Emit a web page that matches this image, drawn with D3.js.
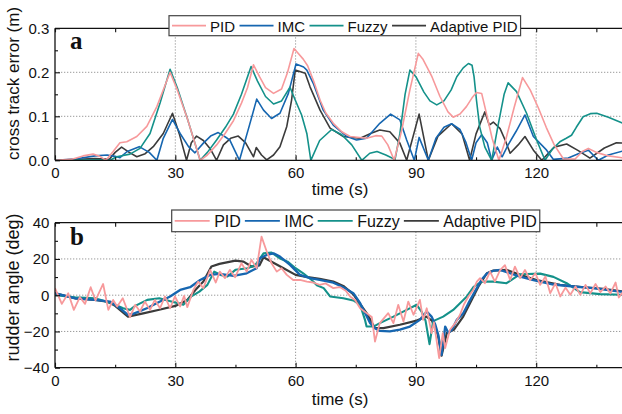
<!DOCTYPE html>
<html><head><meta charset="utf-8">
<script src="https://cdn.jsdelivr.net/npm/d3@7"></script>
<style>
html,body{margin:0;padding:0;background:#fff;}
svg{display:block;}
text{font-family:"Liberation Sans",Arial,sans-serif;fill:#111;}
</style></head>
<body>
<svg id="chart" width="622" height="414"></svg>
<script>
// ---------------- DATA ----------------
const seriesNames = ["PID", "IMC", "Fuzzy", "Adaptive PID"];
const xTicks = [0, 30, 60, 90, 120];
const xMinor = [15, 45, 75, 105, 135];
const cteTicks = [0, 0.1, 0.2, 0.3];
const cteMinor = [0.05, 0.15, 0.25];
const rudTicks = [-40, -20, 0, 20, 40];
const rudMinor = [-30, -10, 10, 30];

// cross track error (m): [time s, value]
const ctePID = [[0,0],[4,0.002],[7,0.01],[9.5,0.014],[11,0.01],[12.7,0],[14.5,0.02],[16.2,0.04],[17.9,0.042],[20.4,0.054],[22.9,0.077],[25.4,0.122],[28.7,0.2],[30.5,0.16],[33,0.095],[36.2,0],[38,0.012],[40.3,0.035],[42.5,0.062],[44.5,0.09],[46.5,0.13],[48,0.165],[49.5,0.217],[51,0.19],[52.5,0.165],[54.5,0.152],[56.5,0.162],[58,0.2],[59.6,0.254],[61.9,0.23],[63,0.215],[64.5,0.18],[66.1,0.137],[67.5,0.108],[69.4,0.084],[71.5,0.065],[73.6,0.054],[77.7,0.05],[80,0.056],[81.5,0.055],[83,0.035],[84.6,0],[86.5,0.07],[88.5,0.16],[90.6,0.243],[91.8,0.229],[94,0.19],[96,0.145],[98,0.11],[99.3,0.098],[101,0.105],[102.6,0.122],[104,0.142],[105.1,0.154],[106.4,0.152],[107.5,0.11],[109,0.05],[110.7,0],[112.5,0.05],[114.5,0.12],[116.6,0.188],[118.5,0.16],[120.5,0.12],[122.5,0.075],[124.5,0.035],[126.8,0.003],[129.7,0.003],[131.5,0.02],[133,0.027],[135,0.018],[138,0.01],[142,0.005]];
const cteIMC = [[0,0],[5,0.003],[10,0.01],[13,0.012],[15,0.009],[16.2,0.006],[18,0.02],[21,0.031],[23.5,0.018],[25.4,0],[27,0.05],[29.3,0.093],[31.2,0.061],[33.3,0.031],[34.9,0.017],[37,0.039],[38.8,0.055],[40.7,0.063],[42.5,0.053],[43.6,0.046],[46,0],[48.5,0.08],[50.3,0.139],[52,0.114],[54,0.095],[56.1,0.107],[58.2,0.152],[60.1,0.219],[62,0.212],[62.8,0.205],[64.4,0.175],[66.9,0.114],[69.4,0.08],[72.8,0.054],[75.2,0.046],[77.7,0.05],[81,0.084],[83.7,0.105],[86,0.092],[87.7,0.046],[89.6,0],[90.8,0.052],[93.1,0],[95,0.05],[97,0.075],[98.9,0.083],[101,0.07],[102.5,0.04],[103.9,0],[105,0.04],[106.4,0.058],[107.8,0.04],[108.9,0],[110.3,0.03],[111.5,0.008],[113,0.035],[115,0.066],[117.2,0.103],[119.3,0.054],[122.6,0.023],[124.3,0.002],[128,0.005],[130.5,0.015],[133,0.023],[135.5,0],[138,0.012],[142,0.022]];
const cteFuzzy = [[0,0],[12,0.001],[13.7,0],[15.4,0.008],[18.7,0.014],[21.2,0.027],[23.7,0.061],[26.2,0.13],[28.7,0.207],[30.5,0.165],[33,0.095],[36.2,0],[38,0.018],[40.3,0.046],[42.5,0.075],[44.5,0.105],[46.5,0.15],[48.9,0.213],[50.5,0.18],[52.5,0.145],[54.5,0.128],[56.5,0.135],[58.6,0.166],[59.9,0.137],[61.5,0.103],[62.8,0.061],[63.8,0],[66,0.045],[69,0.07],[71.5,0.058],[74,0.035],[76.5,0],[78.5,0.016],[80.3,0.02],[82.5,0.012],[84.8,0.002],[86,0.06],[87.3,0.15],[88.5,0.205],[90,0.19],[92,0.155],[93.5,0.135],[95.2,0.126],[97,0.135],[98.8,0.16],[100.2,0.19],[101.8,0.21],[103.1,0.22],[104,0.216],[104.5,0.19],[105.1,0.137],[105.9,0.076],[107.2,0.03],[108.9,0],[110.5,0.08],[112,0.15],[113,0.176],[115.1,0.156],[117.6,0.107],[120.1,0.046],[122.2,0],[124,0.025],[125.9,0.042],[127.5,0.05],[128.8,0.057],[130,0.075],[131.7,0.099],[133.5,0.106],[135.1,0.107],[138,0.098],[142,0.083]];
const cteAdaptive = [[0,0],[10,0.004],[13.5,0.002],[15,0.018],[16.6,0.03],[18.5,0.018],[20.4,0.008],[22.5,0.015],[24.5,0.031],[27,0.061],[29.3,0.107],[31,0.06],[32.8,0],[34,0.04],[35.3,0.055],[37,0.045],[38.8,0.025],[40.3,0],[42,0.035],[43.8,0.05],[45.7,0.055],[47.5,0.04],[49.5,0.008],[50.2,0.029],[51.5,0.012],[52.8,0.001],[54.5,0.012],[56.1,0.031],[57.8,0.077],[59,0.137],[59.9,0.205],[62.4,0.198],[63.6,0.167],[66.1,0.114],[68.6,0.073],[71.9,0.054],[76.1,0.05],[79,0.062],[81,0.069],[83.5,0.065],[86,0.039],[87.7,0],[90.8,0.105],[93.1,0],[95.5,0.055],[98.9,0.083],[101.5,0.06],[103.4,0],[105,0.06],[107.2,0.11],[108.3,0.08],[109.3,0.087],[111,0.072],[112.3,0.045],[113.5,0.016],[115.5,0.035],[117.2,0.054],[119.3,0.023],[121.4,0],[124.5,0.03],[127.6,0.037],[130.5,0.022],[133.4,0.005],[137,0.028],[140,0.04],[142,0.039]];

// rudder angle (deg): [time s, value]
const rudPID = [[0,3.9],[1.7,-4.8],[3.3,1.1],[4.7,-8.1],[6.2,-1.1],[7.5,-4.8],[8.9,4.4],[10.1,-2.9],[12,6.2],[13.3,-8.1],[14.5,-2.6],[15.5,-6.2],[16.9,-1.7],[18.7,-12.1],[20,-5.3],[21.2,-9],[22.4,-3.5],[23.7,-8.1],[24.9,-2.6],[26.2,-7.2],[27.4,-0.7],[28.7,-7.2],[29.9,-0.7],[31.2,-6.2],[32.2,-0.4],[33,-6.6],[34.5,2.9],[35.7,7.5],[37,3.9],[38.7,14],[40.1,7],[41.1,13],[42.4,9.4],[43.6,14],[44.9,9.9],[46.5,17.6],[47.8,13],[49,19.5],[50.3,14.9],[51.5,32.3],[52.8,24.1],[54,17.6],[55.3,13],[56.5,14.9],[57.8,11.2],[59.4,8.4],[61.1,8.4],[62.8,7.5],[64.4,7],[66,5.7],[67.5,6.5],[69.4,3.9],[71,4.5],[72.5,2.5],[73.6,-0.7],[74.8,-2.6],[76.1,-7.2],[77.7,-9.9],[79,-12],[79.8,-25.6],[81,-15.4],[83.1,-9.9],[84.4,-15.4],[85.6,-5.3],[86.9,-14.5],[88.1,-3.5],[89.4,-10.8],[91,-2.6],[91.8,-13.6],[92.7,-7.2],[93.9,-20.9],[94.5,-15],[95.8,-34.7],[96.7,-20.9],[97.3,-29.2],[98.5,-19.1],[99.8,-15.4],[101,-10.8],[102,-5],[103.1,-0.7],[104.3,2.9],[105.2,7.5],[106,9.4],[107.2,6.6],[108.5,13],[109.7,7.5],[111,13.9],[112.2,16.6],[113.5,8.4],[114.7,15.8],[116,9.4],[117.2,13.9],[118.5,8.4],[119.8,12.1],[121,5.7],[122.3,10.3],[123.5,1.1],[124.8,6.6],[126,-0.7],[127.3,4.2],[128.5,0.2],[129.8,4.8],[131,0.2],[132.3,5.7],[133.5,1.1],[134.8,6.2],[136,1.7],[137.3,4.8],[138.5,1],[139.8,7],[140.6,-1.3],[142,2.9]];
const rudIMC = [[0,1.1],[5,-1.7],[10,-2.6],[13.7,-3.5],[16.2,-7.2],[18.2,-10.8],[19.5,-10.3],[22.9,-7.2],[26.2,-3.5],[28.7,-0.7],[31.2,2.9],[33.7,4.4],[36.2,8.4],[38.7,11.2],[41.1,11.8],[44.5,10.6],[47.8,12.1],[50.3,14.9],[51.1,20.4],[52.8,22.2],[54.5,23.1],[56.1,21.3],[58.6,16.7],[61.1,11.2],[63.6,9.4],[66,8.4],[69.4,6.9],[71.9,4.4],[74.4,1.1],[76.1,-4.4],[78.6,-15.4],[79.8,-18.2],[81,-19.7],[83.5,-20],[86,-19],[88.5,-17.3],[91,-13.6],[92.7,-9],[93.9,-11.8],[94.8,-16],[95.6,-22],[96.4,-32.9],[97.3,-17.3],[98.1,-20.9],[99,-19],[100.2,-13.6],[101.8,-10],[103.1,-4.4],[104.7,2],[106.5,9],[107.7,12],[109.5,13.6],[111,13.9],[113,12.5],[116,10.2],[119.3,8.3],[124.3,5.9],[129.3,4.8],[134.3,3.9],[138,2.8],[142,1.7]];
const rudFuzzy = [[0,0],[5,-1.1],[10,-1.7],[14.1,-4.4],[17,-7.2],[18.7,-8.1],[20,-5.9],[23,-2.6],[26,-1.7],[29,-3.5],[32,-5.3],[34,-0.7],[36,2],[38,5.7],[39.7,13],[41.5,11],[43,10.3],[45,14],[48,14.9],[50,16.7],[52,23.1],[54,23.5],[56,20.4],[58,18.5],[60,14.9],[61.9,12.1],[64,8.4],[65.3,5.5],[67,3.9],[68.6,-0.7],[71.9,-1.7],[74.4,-2.9],[76.1,-5.3],[77.3,-13.6],[77.7,-17.3],[79.4,-17.3],[81,-15.4],[84.4,-11.8],[87.7,-8.1],[90.2,-5.3],[91.4,-9],[92.4,-14],[93.4,-27],[94.3,-14.3],[96.8,-11.8],[99.3,-8.1],[101,-4.4],[102.7,-0.7],[104.3,4.4],[106.4,7.5],[109.3,7.5],[112.6,6.6],[116,11.6],[121,11.9],[124.3,10.1],[127.6,6.6],[130.9,1.7],[135.9,0.6],[142,0.2]];
const rudAdaptive = [[0,1.1],[5,-1.7],[10,-2.6],[13,-3.5],[15,-5.9],[18.2,-11.8],[22,-10],[26,-8],[30,-5.9],[33,-2.6],[35,2.9],[37,7.5],[39,15.8],[41,17.3],[45,19.1],[47,18.5],[49,15.8],[51,16.5],[52,20.9],[54,18.5],[57,14.9],[60,11.2],[63,10],[66,9],[69.4,7.5],[71.9,5.1],[74.4,0.5],[77.7,-9.9],[79.8,-18.2],[81.9,-18.2],[86,-16.3],[90.2,-14],[92.6,-11.8],[94,-14],[95.5,-22],[96.4,-33.4],[97.7,-20.9],[99.5,-19],[101.8,-11.8],[103.9,-2.6],[105.6,4.8],[107.7,12.1],[109.3,13.6],[112.6,14],[116,11.2],[120.1,8.4],[125.9,5.7],[131.8,4.4],[137.6,3.3],[142,2]];

// ---------------- DRAW ----------------
const colors = {"PID":"#F7999B","IMC":"#1666B0","Fuzzy":"#14918A","Adaptive PID":"#3B3B3B"};
const svg = d3.select("#chart");
const X0 = 55, X1 = 55 + 142*4.01;
const x = d3.scaleLinear().domain([0, 142]).range([X0, X1]);

function panel(opts){
  const g = svg.append("g");
  const y = d3.scaleLinear().domain(opts.domain).range([opts.yBot, opts.yTop]);
  const clipId = "clip" + opts.id;
  svg.append("defs").append("clipPath").attr("id", clipId)
    .append("rect").attr("x", X0).attr("y", opts.yTop).attr("width", X1 - X0).attr("height", opts.yBot - opts.yTop);
  // grid
  g.append("g").selectAll("line").data(xTicks.slice(1)).join("line")
    .attr("x1", d=>x(d)).attr("x2", d=>x(d)).attr("y1", opts.yTop).attr("y2", opts.yBot)
    .attr("stroke", "#9a9a9a").attr("stroke-width", 1).attr("stroke-dasharray", "1.3,1.7");
  g.append("g").selectAll("line").data(opts.grid).join("line")
    .attr("x1", X0).attr("x2", X1).attr("y1", d=>y(d)).attr("y2", d=>y(d))
    .attr("stroke", "#9a9a9a").attr("stroke-width", 1).attr("stroke-dasharray", "1.3,1.7");
  // series
  const line = d3.line().x(d=>x(d[0])).y(d=>y(d[1]));
  const lg = g.append("g").attr("clip-path", `url(#${clipId})`);
  opts.order.forEach(name => {
    lg.append("path").datum(opts.data[name]).attr("d", line)
      .attr("fill", "none").attr("stroke", colors[name])
      .attr("stroke-width", opts.lw[name]).attr("stroke-linejoin", "round");
  });
  // axes
  const axStyle = sel => { sel.select(".domain").remove(); sel.selectAll("line").attr("stroke", "#111").attr("stroke-width", 1.1);
    sel.selectAll("text").attr("font-size", 15).attr("fill", "#111").attr("font-family", '"Liberation Sans",Arial,sans-serif'); };
  g.append("g").attr("transform", `translate(0,${opts.yBot})`)
    .call(d3.axisBottom(x).tickValues(xTicks).tickSize(-5).tickPadding(opts.xPad).tickFormat(d3.format("d"))).call(axStyle);
  g.append("g").attr("transform", `translate(0,${opts.yBot})`)
    .call(d3.axisBottom(x).tickValues(xMinor).tickSize(-3).tickFormat("")).call(axStyle);
  g.append("g").attr("transform", `translate(0,${opts.yTop})`)
    .call(d3.axisTop(x).tickValues(xTicks.concat(xMinor)).tickSize(-4).tickFormat("")).call(axStyle);
  g.append("g").attr("transform", `translate(${X0},0)`)
    .call(d3.axisLeft(y).tickValues(opts.ticks).tickSize(-5).tickPadding(5.7).tickFormat(opts.fmt)).call(axStyle);
  g.append("g").attr("transform", `translate(${X0},0)`)
    .call(d3.axisLeft(y).tickValues(opts.minor).tickSize(-3).tickFormat("")).call(axStyle);
  // frame lines
  g.append("line").attr("x1", X0).attr("x2", X0).attr("y1", opts.yTop).attr("y2", opts.yBot).attr("stroke", "#111").attr("stroke-width", 1.3);
  g.append("line").attr("x1", X0).attr("x2", X1).attr("y1", opts.yTop).attr("y2", opts.yTop).attr("stroke", "#111").attr("stroke-width", 1.3);
  g.append("line").attr("x1", X0).attr("x2", X1).attr("y1", opts.yBot).attr("y2", opts.yBot).attr("stroke", "#111").attr("stroke-width", 1.3);
  // titles
  g.append("text").attr("x", 340).attr("y", opts.xTitleY).attr("text-anchor", "middle").attr("font-size", 17).text("time (s)");
  g.append("text").attr("transform", `translate(19,${opts.yTitleC}) rotate(-90)`).attr("text-anchor", "middle")
    .attr("font-size", opts.yTitleSize).text(opts.yTitle);
  g.append("text").attr("x", 70).attr("y", opts.labelY).attr("font-size", 25).attr("font-weight", "bold")
    .style("font-family", '"Liberation Serif","Times New Roman",serif').text(opts.label);
  // legend
  const L = opts.legend;
  const leg = g.append("g");
  const box = leg.append("rect").attr("x", L.x).attr("y", L.y).attr("height", L.h)
    .attr("fill", "#fff").attr("stroke", "#444").attr("stroke-width", 1.2);
  let cx = L.x + 3;
  seriesNames.forEach(name => {
    leg.append("line").attr("x1", cx).attr("x2", cx + L.len).attr("y1", L.y + L.h/2).attr("y2", L.y + L.h/2)
      .attr("stroke", colors[name]).attr("stroke-width", 1.8);
    const t = leg.append("text").attr("x", cx + L.len + L.gap).attr("y", L.base).attr("font-size", L.fs).text(name);
    cx = cx + L.len + L.gap + t.node().getComputedTextLength() + L.gap2;
  });
  box.attr("width", cx - L.gap2 + 3 - L.x);
}

panel({id:"a", domain:[0,0.3], yBot:160.3, yTop:28.3, grid:[0.1,0.2], ticks:cteTicks, minor:cteMinor,
  fmt:d3.format(".1f"), xPad:7.4, xTitleY:195, yTitle:"cross track error (m)", yTitleC:83.4, yTitleSize:17,
  label:"a", labelY:49,
  data:{"PID":ctePID,"IMC":cteIMC,"Fuzzy":cteFuzzy,"Adaptive PID":cteAdaptive},
  order:["Adaptive PID","IMC","Fuzzy","PID"],
  lw:{"PID":1.6,"IMC":1.6,"Fuzzy":1.6,"Adaptive PID":1.6},
  legend:{x:169, y:15.7, h:20, len:34, gap:4, gap2:4.5, fs:15, base:32.4}});

panel({id:"b", domain:[-40,40], yBot:367.7, yTop:222.7, grid:[-20,0,20], ticks:rudTicks, minor:rudMinor,
  fmt:d3.format("d"), xPad:8, xTitleY:405, yTitle:"rudder angle (deg)", yTitleC:287.5, yTitleSize:18,
  label:"b", labelY:245,
  data:{"PID":rudPID,"IMC":rudIMC,"Fuzzy":rudFuzzy,"Adaptive PID":rudAdaptive},
  order:["Adaptive PID","Fuzzy","IMC","PID"],
  lw:{"PID":1.8,"IMC":2.3,"Fuzzy":2.1,"Adaptive PID":2.2},
  legend:{x:171.7, y:210, h:21.7, len:35, gap:4.5, gap2:4, fs:16, base:226.6}});
</script>
</body></html>
